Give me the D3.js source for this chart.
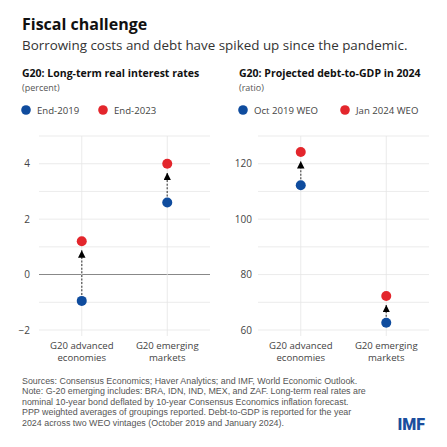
<!DOCTYPE html>
<html>
<head>
<meta charset="utf-8">
<script src="https://cdn.jsdelivr.net/npm/d3@7"></script>
<style>
  body { margin: 0; background: #fff; }
  text { font-family: "Open Sans", "Noto Sans", sans-serif; }
</style>
</head>
<body>
<svg id="chart" width="447" height="447"></svg>
<script>
// categories + values
const groups = ["G20 advanced|economies", "G20 emerging|markets"];

const rateSeries = ["End-2019", "End-2023"];
const rate2019 = [-0.95, 2.6];
const rate2023 = [1.2, 4.0];
const rateTicks = [-2, 0, 2, 4];

const debtSeries = ["Oct 2019 WEO", "Jan 2024 WEO"];
const debt2019 = [112.2, 62.6];
const debt2024 = [124.2, 72.3];
const debtTicks = [60, 80, 100, 120];

const footNotes = [
  "Sources: Consensus Economics; Haver Analytics; and IMF, World Economic Outlook.",
  "Note: G-20 emerging includes: BRA, IDN, IND, MEX, and ZAF. Long-term real rates are",
  "nominal 10-year bond deflated by 10-year Consensus Economics inflation forecast.",
  "PPP weighted averages of groupings reported. Debt-to-GDP is reported for the year",
  "2024 across two WEO vintages (October 2019 and January 2024)."
];

const blue = "#0f4c9e", red = "#e3262c";
const svg = d3.select("#chart");

svg.append("text").attr("x", 22).attr("y", 30)
  .attr("font-size", 16).attr("font-weight", 700).attr("fill", "#111")
  .text("Fiscal challenge");
svg.append("text").attr("x", 22).attr("y", 50)
  .attr("font-size", 13.4).attr("fill", "#333")
  .text("Borrowing costs and debt have spiked up since the pandemic.");

// arrowhead drawn along +x, orient auto turns it with the line
svg.append("defs").append("marker")
  .attr("id", "arr").attr("viewBox", "0 0 10 10")
  .attr("refX", 10).attr("refY", 5)
  .attr("markerWidth", 7.5).attr("markerHeight", 7.5)
  .attr("markerUnits", "userSpaceOnUse")
  .attr("orient", "auto")
  .append("path").attr("d", "M0,0 L10,5 L0,10 Z").attr("fill", "#000");

function panel(opts) {
  const g = svg.append("g");
  const x0 = opts.left, x1 = opts.left + 171;

  g.append("text").attr("x", opts.titleX).attr("y", 77)
    .attr("font-size", 10.5).attr("font-weight", 700).attr("fill", "#111")
    .text(opts.title);
  g.append("text").attr("x", opts.titleX).attr("y", 91)
    .attr("font-size", 9).attr("fill", "#555")
    .text(opts.unit);

  // legend
  const leg = g.selectAll(".leg").data(opts.series).enter().append("g")
    .attr("transform", (d, i) => `translate(${opts.titleX + 4 + i * opts.legStep},110)`);
  leg.append("circle").attr("r", 4.8).attr("fill", (d, i) => i ? red : blue);
  leg.append("text").attr("x", 11).attr("y", 3.5)
    .attr("font-size", 9.6).attr("fill", "#444").text(d => d);

  const y = d3.scaleLinear().domain(opts.domain).range([330, 136]);
  const x = d3.scalePoint().domain(groups).range([x0, x1]).padding(0.5);

  // grid
  g.selectAll(".grid").data(d3.range(opts.domain[0], opts.domain[1] + 0.001, opts.minor))
    .enter().append("line")
    .attr("x1", x0).attr("x2", x1)
    .attr("y1", d => y(d)).attr("y2", d => y(d))
    .attr("stroke", d => d === 0 ? "#888" : "#e6e6e6")
    .attr("stroke-width", d => d === 0 ? 1.1 : 0.8);
  g.selectAll(".vgrid").data(groups).enter().append("line")
    .attr("x1", d => x(d)).attr("x2", d => x(d))
    .attr("y1", 136).attr("y2", 336)
    .attr("stroke", "#e6e6e6").attr("stroke-width", 0.8);

  const yAxis = g.append("g").attr("transform", `translate(${x0},0)`)
    .call(d3.axisLeft(y).tickValues(opts.ticks).tickFormat(d3.format("d"))
      .tickSize(0).tickPadding(opts.pad));
  yAxis.select(".domain").remove();
  yAxis.selectAll("text").attr("font-size", 10).attr("fill", "#444");

  // category labels
  groups.forEach(c => {
    c.split("|").forEach((t, i) => {
      g.append("text").attr("x", x(c)).attr("y", 349 + i * 11.5)
        .attr("text-anchor", "middle").attr("font-size", 9.6).attr("fill", "#444")
        .text(t);
    });
  });

  // arrows
  groups.forEach((c, i) => {
    g.append("line")
      .attr("x1", x(c)).attr("x2", x(c))
      .attr("y1", y(opts.a[i]) - 6).attr("y2", y(opts.b[i]) + 9)
      .attr("stroke", "#666").attr("stroke-width", 1.4)
      .attr("stroke-dasharray", "2,1.6")
      .attr("marker-end", "url(#arr)");
  });

  g.selectAll(".dotA").data(opts.a).enter().append("circle")
    .attr("cx", (d, i) => x(groups[i])).attr("cy", d => y(d))
    .attr("r", 5).attr("fill", blue);
  g.selectAll(".dotB").data(opts.b).enter().append("circle")
    .attr("cx", (d, i) => x(groups[i])).attr("cy", d => y(d))
    .attr("r", 5).attr("fill", red);
}

panel({ left: 39, titleX: 22, legStep: 77, pad: 9,
  title: "G20: Long-term real interest rates", unit: "(percent)",
  series: rateSeries, domain: [-2, 5], minor: 1, ticks: rateTicks,
  a: rate2019, b: rate2023 });

panel({ left: 258, titleX: 239, legStep: 102, pad: 6,
  title: "G20: Projected debt-to-GDP in 2024", unit: "(ratio)",
  series: debtSeries, domain: [60, 130], minor: 10, ticks: debtTicks,
  a: debt2019, b: debt2024 });

svg.append("g").selectAll("text").data(footNotes).enter().append("text")
  .attr("x", 22).attr("y", (d, i) => 384 + i * 10.4)
  .style("font-family", "\"Liberation Sans\", Arial, sans-serif")
  .attr("font-size", 8.9).attr("fill", "#555").text(d => d);

svg.append("text").attr("x", 425).attr("y", 430).attr("text-anchor", "end")
  .attr("font-size", 16).attr("font-weight", 900).attr("fill", "#1a4e9e")
  .style("font-family", "Roboto, sans-serif")
  .text("IMF");
</script>
</body>
</html>
